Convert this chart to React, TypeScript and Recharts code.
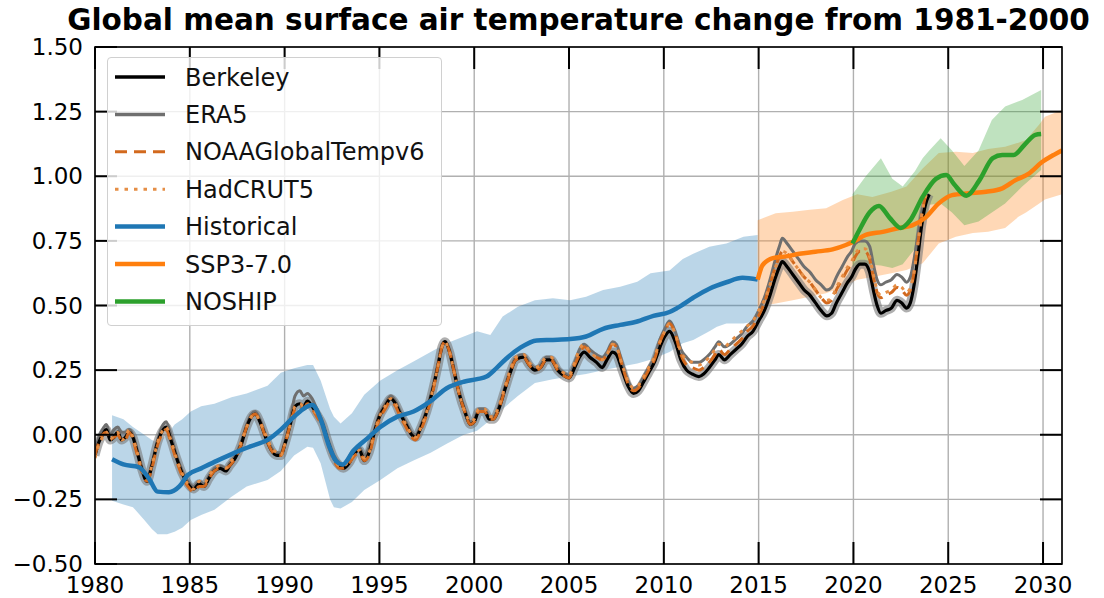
import React from "react";
import { Area, CartesianGrid, ComposedChart, Line, XAxis, YAxis } from "recharts";

// observations (12-month smoothed anomalies vs 1981-2000), shared time axis
const OBS_YEARS = [
  1980.0, 1980.2, 1980.4, 1980.6, 1980.8, 1981.0, 1981.2, 1981.4, 1981.6, 1981.8,
  1982.0, 1982.2, 1982.45, 1982.75, 1983.0, 1983.3, 1983.6, 1983.75, 1984.0, 1984.3,
  1984.6, 1984.9, 1985.2, 1985.5, 1985.75, 1986.0, 1986.3, 1986.6, 1986.9, 1987.1,
  1987.4, 1987.7, 1988.0, 1988.25, 1988.45, 1988.7, 1989.0, 1989.3, 1989.6, 1989.8,
  1990.0, 1990.3, 1990.55, 1990.8, 1991.0, 1991.2, 1991.45, 1991.7, 1992.0, 1992.3,
  1992.6, 1992.9, 1993.1, 1993.4, 1993.7, 1993.95, 1994.2, 1994.45, 1994.7, 1995.0,
  1995.3, 1995.6, 1995.85, 1996.1, 1996.4, 1996.7, 1996.9, 1997.2, 1997.5, 1997.8,
  1998.1, 1998.3, 1998.45, 1998.7, 1998.95, 1999.2, 1999.5, 1999.8, 2000.0, 2000.25,
  2000.55, 2000.8, 2001.0, 2001.3, 2001.6, 2001.9, 2002.2, 2002.6, 2002.9, 2003.2,
  2003.5, 2003.8, 2004.05, 2004.4, 2004.7, 2005.0, 2005.3, 2005.55, 2005.8, 2006.1,
  2006.45, 2006.75, 2007.0, 2007.3, 2007.5, 2007.8, 2008.1, 2008.4, 2008.65, 2008.9,
  2009.2, 2009.5, 2009.8, 2010.05, 2010.3, 2010.6, 2010.9, 2011.2, 2011.5, 2011.85,
  2012.1, 2012.4, 2012.7, 2012.9, 2013.2, 2013.5, 2013.8, 2014.1, 2014.4, 2014.7,
  2015.0, 2015.3, 2015.6, 2015.85, 2016.1, 2016.25, 2016.5, 2016.8, 2017.1, 2017.4,
  2017.7, 2018.0, 2018.3, 2018.6, 2018.85, 2019.1, 2019.4, 2019.7, 2019.9, 2020.1,
  2020.35, 2020.6, 2020.85, 2021.05, 2021.25, 2021.45, 2021.7, 2022.0, 2022.3, 2022.55,
  2022.8, 2023.0, 2023.2, 2023.4, 2023.6, 2023.8, 2024.0,
];
const BERKELEY = [
  -0.08, -0.03, 0.0, 0.02, -0.02, -0.01, 0.01, -0.02, -0.01, 0.01,
  -0.01, -0.06, -0.13, -0.18, -0.12, -0.03, 0.02, 0.03, -0.02, -0.09,
  -0.15, -0.19, -0.21, -0.19, -0.2, -0.17, -0.14, -0.13, -0.14, -0.12,
  -0.09, -0.04, 0.03, 0.07, 0.08, 0.05, -0.01, -0.06, -0.08, -0.08,
  -0.04, 0.04, 0.11, 0.12, 0.11, 0.13, 0.11, 0.08, 0.04, -0.03,
  -0.09, -0.12, -0.13, -0.11, -0.07, -0.06, -0.1, -0.07, 0.0, 0.07,
  0.11, 0.14, 0.12, 0.08, 0.04, 0.0, -0.01, 0.03, 0.09, 0.17,
  0.27, 0.34, 0.36, 0.32, 0.24, 0.16, 0.09, 0.04, 0.05, 0.09,
  0.09, 0.06, 0.06, 0.1, 0.17, 0.24, 0.29, 0.3, 0.27, 0.25,
  0.26, 0.29, 0.29, 0.25, 0.23, 0.22, 0.26, 0.3, 0.32, 0.3,
  0.28, 0.26, 0.29, 0.32, 0.31, 0.25, 0.19, 0.16, 0.17, 0.2,
  0.24, 0.28, 0.34, 0.38, 0.4, 0.36, 0.29, 0.25, 0.235, 0.225,
  0.235, 0.26, 0.29, 0.31, 0.29, 0.31, 0.33, 0.35, 0.38, 0.4,
  0.44, 0.48, 0.54, 0.6, 0.65, 0.67, 0.65, 0.62, 0.59, 0.56,
  0.54, 0.51, 0.48, 0.46, 0.47, 0.51, 0.55, 0.59, 0.61, 0.64,
  0.66, 0.66, 0.63, 0.56, 0.5, 0.47, 0.48, 0.49, 0.52, 0.51,
  0.49, 0.51, 0.58, 0.69, 0.81, 0.89, 0.93,
];
const ERA5 = [
  -0.07, -0.01, 0.02, 0.04, 0.0, 0.02, 0.03, 0.01, 0.01, 0.02,
  0.0, -0.05, -0.12, -0.17, -0.11, -0.02, 0.04, 0.05, 0.0, -0.08,
  -0.14, -0.18, -0.2, -0.18, -0.19, -0.16, -0.13, -0.12, -0.13, -0.11,
  -0.08, -0.03, 0.04, 0.08, 0.09, 0.06, 0.0, -0.05, -0.07, -0.07,
  -0.03, 0.06, 0.15, 0.17, 0.15, 0.16, 0.14, 0.1, 0.05, -0.02,
  -0.08, -0.11, -0.12, -0.1, -0.06, -0.05, -0.08, -0.05, 0.01, 0.08,
  0.12, 0.15, 0.13, 0.09, 0.05, 0.01, 0.0, 0.04, 0.1, 0.18,
  0.28, 0.35, 0.36, 0.33, 0.25, 0.17, 0.1, 0.05, 0.06, 0.1,
  0.1, 0.07, 0.07, 0.11, 0.18, 0.25, 0.3, 0.31, 0.28, 0.26,
  0.27, 0.3, 0.3, 0.26, 0.24, 0.23, 0.28, 0.33, 0.35, 0.33,
  0.31, 0.3, 0.32, 0.36, 0.35, 0.28, 0.21, 0.18, 0.19, 0.22,
  0.26, 0.3, 0.37, 0.41, 0.44, 0.4, 0.33, 0.3, 0.28, 0.28,
  0.29, 0.31, 0.34, 0.36, 0.34, 0.35, 0.37, 0.39, 0.42, 0.44,
  0.48, 0.53, 0.6, 0.67, 0.73, 0.76, 0.74, 0.71, 0.68, 0.65,
  0.63, 0.6, 0.58, 0.56, 0.57, 0.61, 0.65, 0.69, 0.71, 0.74,
  0.75, 0.75, 0.73, 0.66, 0.6, 0.58, 0.59, 0.6, 0.62, 0.61,
  0.59, 0.61, 0.68, 0.77, 0.86, 0.91, 0.93,
];
const NOAA = [
  -0.08, -0.03, 0.0, 0.01, -0.02, -0.01, 0.0, -0.02, -0.02, 0.01,
  -0.02, -0.07, -0.14, -0.18, -0.13, -0.04, 0.01, 0.02, -0.03, -0.1,
  -0.16, -0.2, -0.22, -0.2, -0.2, -0.17, -0.14, -0.13, -0.13, -0.12,
  -0.09, -0.04, 0.03, 0.07, 0.08, 0.05, -0.01, -0.06, -0.08, -0.08,
  -0.04, 0.04, 0.1, 0.11, 0.1, 0.12, 0.1, 0.07, 0.03, -0.04,
  -0.1, -0.13, -0.13, -0.11, -0.08, -0.07, -0.1, -0.08, -0.01, 0.06,
  0.1, 0.13, 0.11, 0.07, 0.03, -0.01, -0.02, 0.02, 0.08, 0.16,
  0.27, 0.34, 0.36, 0.32, 0.24, 0.16, 0.09, 0.04, 0.05, 0.09,
  0.09, 0.06, 0.06, 0.1, 0.17, 0.24, 0.29, 0.3, 0.27, 0.25,
  0.26, 0.29, 0.29, 0.25, 0.23, 0.22, 0.27, 0.31, 0.34, 0.32,
  0.3, 0.29, 0.31, 0.35, 0.34, 0.27, 0.2, 0.17, 0.18, 0.21,
  0.25, 0.29, 0.36, 0.4, 0.43, 0.39, 0.31, 0.27, 0.26, 0.25,
  0.26, 0.28, 0.31, 0.33, 0.31, 0.33, 0.35, 0.37, 0.4, 0.42,
  0.46, 0.51, 0.58, 0.64, 0.69, 0.71, 0.7, 0.67, 0.64, 0.61,
  0.59, 0.56, 0.53, 0.51, 0.52, 0.56, 0.6, 0.64, 0.66, 0.69,
  0.71, 0.71, 0.68, 0.61, 0.55, 0.53, 0.54, 0.55, 0.57, 0.56,
  0.54, 0.56, 0.63, 0.74, 0.85, 0.92, 0.95,
];
const HADCRUT = [
  -0.09, -0.04, -0.01, 0.01, -0.02, 0.0, 0.01, -0.02, -0.01, 0.02,
  -0.01, -0.06, -0.13, -0.17, -0.12, -0.03, 0.02, 0.03, -0.02, -0.09,
  -0.15, -0.19, -0.21, -0.18, -0.19, -0.16, -0.13, -0.12, -0.13, -0.11,
  -0.08, -0.03, 0.03, 0.07, 0.08, 0.05, 0.0, -0.05, -0.07, -0.08,
  -0.04, 0.04, 0.11, 0.12, 0.11, 0.12, 0.1, 0.08, 0.04, -0.03,
  -0.09, -0.12, -0.12, -0.1, -0.07, -0.06, -0.09, -0.07, 0.0, 0.07,
  0.11, 0.14, 0.12, 0.08, 0.04, 0.0, -0.01, 0.03, 0.09, 0.17,
  0.27, 0.34, 0.36, 0.32, 0.24, 0.16, 0.09, 0.05, 0.06, 0.1,
  0.1, 0.07, 0.07, 0.11, 0.18, 0.25, 0.3, 0.31, 0.28, 0.26,
  0.27, 0.3, 0.3, 0.26, 0.24, 0.23, 0.28, 0.33, 0.35, 0.32,
  0.3, 0.29, 0.31, 0.35, 0.34, 0.27, 0.21, 0.18, 0.19, 0.22,
  0.26, 0.3, 0.36, 0.4, 0.43, 0.39, 0.32, 0.29, 0.28, 0.27,
  0.28, 0.3, 0.33, 0.35, 0.34, 0.36, 0.38, 0.4, 0.42, 0.44,
  0.48, 0.52, 0.58, 0.64, 0.69, 0.71, 0.7, 0.67, 0.64, 0.61,
  0.59, 0.56, 0.53, 0.52, 0.53, 0.57, 0.61, 0.65, 0.67, 0.7,
  0.72, 0.72, 0.69, 0.62, 0.56, 0.54, 0.55, 0.56, 0.58, 0.57,
  0.55, 0.57, 0.63, 0.74, 0.85, 0.92, 0.95,
];

// model ensemble means
const HIST_YEARS = [
  1980.9, 1981.5, 1982.3, 1982.85, 1983.3, 1983.9, 1984.45, 1984.9, 1985.6, 1986.45,
  1987.35, 1988.2, 1989.1, 1989.8, 1990.5, 1991.45, 1991.9, 1992.35, 1992.7, 1993.05,
  1993.65, 1994.35, 1995.05, 1995.95, 1996.8, 1997.7, 1998.55, 1999.45, 2000.15, 2000.65,
  2001.2, 2001.7, 2002.4, 2003.3, 2004.15, 2005.05, 2005.9, 2006.8, 2007.7, 2008.55,
  2009.45, 2010.3, 2010.7, 2011.55, 2012.4, 2013.3, 2014.15, 2014.95,
];
const HISTORICAL = [
  -0.095, -0.115, -0.125, -0.17, -0.22, -0.222, -0.2, -0.155, -0.13, -0.1,
  -0.07, -0.045, -0.02, 0.02, 0.07, 0.115, 0.06, -0.045, -0.1, -0.115,
  -0.06, -0.015, 0.03, 0.07, 0.09, 0.13, 0.18, 0.205, 0.215, 0.225,
  0.26, 0.295, 0.335, 0.365, 0.367, 0.37, 0.38, 0.41, 0.425, 0.437,
  0.46, 0.475, 0.49, 0.53, 0.565, 0.59, 0.607, 0.6,
];
const SSP_YEARS = [
  2014.95, 2015.2, 2015.75, 2016.45, 2017.15, 2018.0, 2018.9, 2019.6, 2020.0, 2020.65,
  2021.55, 2022.4, 2023.1, 2023.8, 2024.5, 2025.2, 2026.1, 2027.0, 2027.85, 2028.55,
  2029.25, 2029.95, 2030.5, 2031.0,
];
const SSP370 = [
  0.6, 0.655, 0.683, 0.69, 0.7, 0.708, 0.717, 0.734, 0.747, 0.773,
  0.785, 0.8, 0.81, 0.84, 0.895, 0.927, 0.934, 0.94, 0.953, 0.985,
  1.01, 1.055, 1.08, 1.1,
];
const NOSHIP_YEARS = [
  2019.95, 2020.3, 2020.85, 2021.35, 2021.9, 2022.5, 2023.0, 2023.65, 2024.35, 2024.9,
  2025.3, 2025.95, 2026.65, 2027.35, 2027.85, 2028.45, 2029.0, 2029.6, 2029.9,
];
const NOSHIP = [
  0.74, 0.79, 0.86, 0.885, 0.84, 0.8, 0.83, 0.92, 0.99, 1.005,
  0.97, 0.925, 0.985, 1.07, 1.082, 1.082, 1.12, 1.16, 1.163,
];

// ensemble spread (min / max)
const HIST_BAND_YEARS = [
  1980.9, 1981.5, 1982.0, 1982.6, 1983.0, 1983.3, 1983.8, 1984.2, 1984.6, 1985.05,
  1985.6, 1986.3, 1987.2, 1988.0, 1989.1, 1989.8, 1990.5, 1991.2, 1991.5, 1991.9,
  1992.4, 1992.6, 1992.95, 1993.55, 1994.2, 1995.05, 1995.95, 1996.8, 1997.7, 1998.55,
  1999.45, 2000.15, 2000.85, 2001.5, 2002.3, 2003.2, 2004.15, 2005.05, 2005.9, 2006.8,
  2007.7, 2008.6, 2009.3, 2010.3, 2011.0, 2011.55, 2012.4, 2012.8, 2013.3, 2014.2,
  2014.95,
];
const HIST_LO = [
  -0.255, -0.27, -0.28, -0.33, -0.365, -0.385, -0.385, -0.375, -0.36, -0.33,
  -0.31, -0.29, -0.24, -0.2, -0.175, -0.14, -0.08, -0.046, -0.05, -0.11,
  -0.25, -0.28, -0.285, -0.26, -0.214, -0.175, -0.13, -0.1, -0.07, -0.035,
  0.0, 0.015, 0.057, 0.1, 0.15, 0.2, 0.215, 0.225, 0.235, 0.25,
  0.263, 0.276, 0.29, 0.32, 0.354, 0.367, 0.4, 0.418, 0.43, 0.43,
  0.44,
];
const HIST_HI = [
  0.075, 0.06, 0.03, 0.0, -0.02, -0.03, 0.0, 0.04, 0.06, 0.09,
  0.11, 0.12, 0.145, 0.16, 0.19, 0.24, 0.257, 0.27, 0.27, 0.21,
  0.1, 0.07, 0.044, 0.083, 0.155, 0.21, 0.25, 0.283, 0.32, 0.354,
  0.38, 0.4, 0.386, 0.457, 0.495, 0.52, 0.528, 0.52, 0.534, 0.56,
  0.573, 0.592, 0.625, 0.635, 0.68, 0.7, 0.727, 0.733, 0.74, 0.766,
  0.773,
];
const SSP_BAND_YEARS = [
  2014.95, 2015.9, 2016.8, 2017.7, 2018.56, 2019.44, 2020.2, 2021.0, 2022.0, 2022.8,
  2023.65, 2024.5, 2025.4, 2026.3, 2027.1, 2028.0, 2028.7, 2029.1, 2029.8, 2030.1,
  2031.0,
];
const SSP_LO = [
  0.495, 0.508, 0.52, 0.534, 0.547, 0.573, 0.6, 0.61, 0.625, 0.637,
  0.663, 0.74, 0.766, 0.78, 0.785, 0.8, 0.843, 0.86, 0.895, 0.91,
  0.93,
];
const SSP_HI = [
  0.83, 0.857, 0.863, 0.87, 0.876, 0.908, 0.93, 0.92, 0.94, 0.96,
  1.03, 1.09, 1.095, 1.09, 1.105, 1.114, 1.13, 1.14, 1.2, 1.23,
  1.256,
];
const NOSHIP_BAND_YEARS = [
  2019.95, 2020.65, 2021.45, 2022.05, 2022.6, 2023.25, 2023.65, 2024.0, 2024.6, 2025.2,
  2025.85, 2026.6, 2027.3, 2028.0, 2028.9, 2029.9,
];
const NOSHIP_LO = [
  0.65, 0.66, 0.655, 0.645, 0.66, 0.72, 0.8, 0.89, 0.895, 0.86,
  0.81, 0.825, 0.86, 0.895, 0.96, 1.024,
];
const NOSHIP_HI = [
  0.93, 1.0, 1.07, 0.99, 0.96, 1.02, 1.07, 1.1, 1.147, 1.1,
  1.04, 1.1, 1.218, 1.27, 1.295, 1.334,
];

const X_MAJOR = [1980, 1985, 1990, 1995, 2000, 2005, 2010, 2015, 2020, 2025, 2030];
const Y_MAJOR = [-0.5, -0.25, 0, 0.25, 0.5, 0.75, 1.0, 1.25, 1.5];
const X_MINOR: number[] = [];
for (let y = 1981; y < 2031; y++) if (y % 5 !== 0) X_MINOR.push(y);
const Y_MINOR: number[] = [];
for (let i = -10; i <= 30; i++) if (i % 5 !== 0) Y_MINOR.push(i / 20);

const PLOT = { left: 95, right: 1062, top: 47, bottom: 564 };
const MAJOR_LEN = 22;
const MINOR_LEN = 12;

function buildTable() {
  const rows = new Map<number, any>();
  const put = (years: number[], key: string, vals: any[]) => {
    years.forEach((yr, i) => {
      const row = rows.get(yr) ?? { year: yr };
      row[key] = vals[i];
      rows.set(yr, row);
    });
  };
  put(OBS_YEARS, "berkeley", BERKELEY);
  put(OBS_YEARS, "era5", ERA5);
  put(OBS_YEARS, "noaa", NOAA);
  put(OBS_YEARS, "hadcrut", HADCRUT);
  put(HIST_YEARS, "historical", HISTORICAL);
  put(SSP_YEARS, "ssp", SSP370);
  put(NOSHIP_YEARS, "noship", NOSHIP);
  put(HIST_BAND_YEARS, "histBand", HIST_LO.map((lo, i) => [lo, HIST_HI[i]]));
  put(SSP_BAND_YEARS, "sspBand", SSP_LO.map((lo, i) => [lo, SSP_HI[i]]));
  put(NOSHIP_BAND_YEARS, "noshipBand", NOSHIP_LO.map((lo, i) => [lo, NOSHIP_HI[i]]));
  return [...rows.values()].sort((a, b) => a.year - b.year);
}
const TABLE = buildTable();

const fmtY = (v: number) => (v < 0 ? "\u2212" + Math.abs(v).toFixed(2) : v.toFixed(2));

function XMajorTick({ x, payload }: any) {
  return (
    <g>
      <line x1={x} x2={x} y1={PLOT.bottom} y2={PLOT.bottom - MAJOR_LEN} stroke="#000" strokeWidth={2} />
      <line x1={x} x2={x} y1={PLOT.top} y2={PLOT.top + MAJOR_LEN} stroke="#000" strokeWidth={2} />
      <text x={x} y={593} textAnchor="middle" fontSize={23} fill="#000">
        {payload.value}
      </text>
    </g>
  );
}
function XMinorTick({ x }: any) {
  return (
    <g>
      <line x1={x} x2={x} y1={PLOT.bottom} y2={PLOT.bottom - MINOR_LEN} stroke="#000" strokeWidth={1.5} />
      <line x1={x} x2={x} y1={PLOT.top} y2={PLOT.top + MINOR_LEN} stroke="#000" strokeWidth={1.5} />
    </g>
  );
}
function YMajorTick({ y, payload }: any) {
  return (
    <g>
      <line x1={PLOT.left} x2={PLOT.left + MAJOR_LEN} y1={y} y2={y} stroke="#000" strokeWidth={2} />
      <line x1={PLOT.right} x2={PLOT.right - MAJOR_LEN} y1={y} y2={y} stroke="#000" strokeWidth={2} />
      <text x={PLOT.left - 12} y={y + 8} textAnchor="end" fontSize={23} fill="#000">
        {fmtY(payload.value)}
      </text>
    </g>
  );
}
function YMinorTick({ y }: any) {
  return (
    <g>
      <line x1={PLOT.left} x2={PLOT.left + MINOR_LEN} y1={y} y2={y} stroke="#000" strokeWidth={1.5} />
      <line x1={PLOT.right} x2={PLOT.right - MINOR_LEN} y1={y} y2={y} stroke="#000" strokeWidth={1.5} />
    </g>
  );
}

const LEGEND = [
  { label: "Berkeley", color: "#000000", width: 3.5, dash: undefined },
  { label: "ERA5", color: "#6f6f6f", width: 3.5, dash: undefined },
  { label: "NOAAGlobalTempv6", color: "#d2691e", width: 3, dash: "12 7" },
  { label: "HadCRUT5", color: "#e58e46", width: 3, dash: "3.5 6" },
  { label: "Historical", color: "#1f77b4", width: 4.5, dash: undefined },
  { label: "SSP3-7.0", color: "#ff7f0e", width: 4.5, dash: undefined },
  { label: "NOSHIP", color: "#2ca02c", width: 4.5, dash: undefined },
];

export default function App() {
  return (
    <div
      style={{
        position: "absolute",
        left: 0,
        top: 0,
        width: 1104,
        height: 598,
        background: "#fff",
        fontFamily: "'DejaVu Sans', sans-serif",
      }}
    >
      <ComposedChart width={1104} height={598} data={TABLE} margin={{ top: 47, right: 42, bottom: 0, left: 0 }}>
        <CartesianGrid stroke="#b0b0b0" strokeWidth={1.4} />
        <XAxis
          dataKey="year"
          type="number"
          domain={[1980, 2031]}
          allowDataOverflow
          ticks={X_MAJOR}
          interval={0}
          height={34}
          axisLine={false}
          tickLine={false}
          tick={(p: any) => <XMajorTick {...p} />}
        />
        <XAxis
          xAxisId="minor"
          dataKey="year"
          type="number"
          domain={[1980, 2031]}
          allowDataOverflow
          ticks={X_MINOR}
          interval={0}
          height={0}
          axisLine={false}
          tickLine={false}
          tick={(p: any) => <XMinorTick {...p} />}
        />
        <YAxis
          type="number"
          domain={[-0.5, 1.5]}
          allowDataOverflow
          ticks={Y_MAJOR}
          interval={0}
          width={95}
          axisLine={false}
          tickLine={false}
          tick={(p: any) => <YMajorTick {...p} />}
        />
        <YAxis
          yAxisId="minor"
          type="number"
          domain={[-0.5, 1.5]}
          allowDataOverflow
          ticks={Y_MINOR}
          interval={0}
          width={0}
          axisLine={false}
          tickLine={false}
          tick={(p: any) => <YMinorTick {...p} />}
        />

        <Area dataKey="histBand" stroke="none" fill="#1f77b4" fillOpacity={0.3} connectNulls isAnimationActive={false} />
        <Area dataKey="sspBand" stroke="none" fill="#ff7f0e" fillOpacity={0.3} connectNulls isAnimationActive={false} />
        <Area dataKey="noshipBand" stroke="none" fill="#2ca02c" fillOpacity={0.3} connectNulls isAnimationActive={false} />

        <Line type="monotone" dataKey="berkeley" stroke="#7a7a7a" strokeOpacity={0.6} strokeWidth={9} dot={false} activeDot={false} connectNulls isAnimationActive={false} />
        <Line type="monotone" dataKey="era5" stroke="#6f6f6f" strokeWidth={3} dot={false} activeDot={false} connectNulls isAnimationActive={false} />
        <Line type="monotone" dataKey="berkeley" stroke="#000" strokeWidth={3.2} dot={false} activeDot={false} connectNulls isAnimationActive={false} />
        <Line type="monotone" dataKey="noaa" stroke="#d2691e" strokeWidth={3} strokeDasharray="12 7" dot={false} activeDot={false} connectNulls isAnimationActive={false} />
        <Line type="monotone" dataKey="hadcrut" stroke="#e58e46" strokeWidth={3} strokeDasharray="3.5 6" dot={false} activeDot={false} connectNulls isAnimationActive={false} />
        <Line type="monotone" dataKey="historical" stroke="#1f77b4" strokeWidth={4.5} dot={false} activeDot={false} connectNulls isAnimationActive={false} />
        <Line type="monotone" dataKey="ssp" stroke="#ff7f0e" strokeWidth={4.5} dot={false} activeDot={false} connectNulls isAnimationActive={false} />
        <Line type="monotone" dataKey="noship" stroke="#2ca02c" strokeWidth={4.5} dot={false} activeDot={false} connectNulls isAnimationActive={false} />
      </ComposedChart>

      <svg width={1104} height={598} style={{ position: "absolute", left: 0, top: 0, pointerEvents: "none" }}>
        <text x={578.5} y={29.5} textAnchor="middle" fontSize={29.5} fontWeight="bold" fill="#000">
          Global mean surface air temperature change from 1981-2000
        </text>
        <rect
          x={PLOT.left}
          y={PLOT.top}
          width={PLOT.right - PLOT.left}
          height={PLOT.bottom - PLOT.top}
          fill="none"
          stroke="#000"
          strokeWidth={1.6}
        />
      </svg>

      <div
        style={{
          position: "absolute",
          left: 107,
          top: 57,
          width: 335,
          height: 269,
          boxSizing: "border-box",
          border: "1px solid #d0d0d0",
          borderRadius: 4,
          background: "rgba(255,255,255,0.8)",
        }}
      >
        <svg width={335} height={269} style={{ position: "absolute", left: -1, top: -1 }}>
          {LEGEND.map((item, i) => {
            const cy = 20 + i * 37.4;
            return (
              <g key={item.label}>
                <line x1={8} x2={58} y1={cy} y2={cy} stroke={item.color} strokeWidth={item.width} strokeDasharray={item.dash} />
                <text x={78} y={cy + 8.5} fontSize={24} fill="#111">
                  {item.label}
                </text>
              </g>
            );
          })}
        </svg>
      </div>
    </div>
  );
}
